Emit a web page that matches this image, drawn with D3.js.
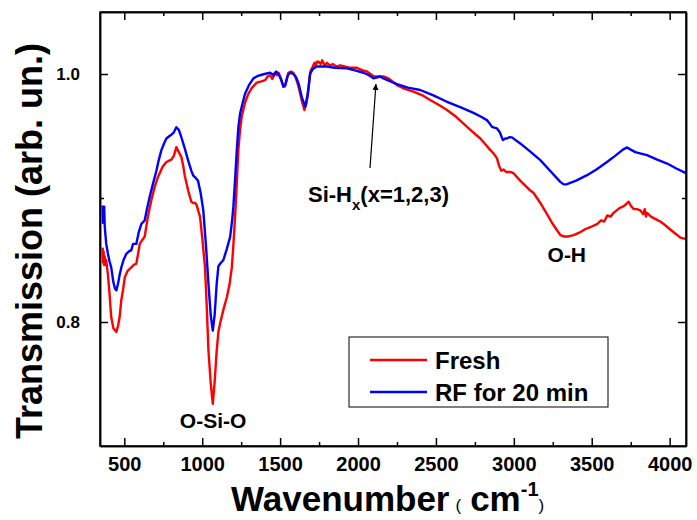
<!DOCTYPE html>
<html>
<head>
<meta charset="utf-8">
<script src="https://cdn.jsdelivr.net/npm/d3@7"></script>
<style>
  body { margin: 0; background: #fff; }
  svg { font-family: "Liberation Sans", Arial, sans-serif; }
  .axis path, .axis line { stroke: #000; stroke-width: 1.5; }
  .axis text { font-weight: bold; fill: #000; }
</style>
</head>
<body>
<svg width="697" height="520"></svg>
<script>
// wavenumber (cm-1) and transmission
var freshWn = [361,364,367,370,374,380,384,395,405,416,430,449,460,470,481,492,503,520,545,560,577,590,599,615,631,650,673,695,716,745,770,802,818,834,850,866,878,888,910,930,943,955,965,976,986,1000,1018,1030,1040,1055,1068,1080,1093,1104,1115,1136,1158,1175,1190,1200,1211,1222,1232,1243,1254,1275,1296,1320,1350,1380,1404,1420,1436,1450,1465,1479,1490,1500,1511,1522,1532,1542,1553,1570,1585,1600,1618,1640,1656,1668,1682,1690,1697,1710,1720,1728,1736,1746,1760,1770,1785,1800,1820,1840,1860,1885,1920,1950,1993,2030,2057,2080,2099,2130,2163,2196,2250,2300,2356,2410,2463,2520,2571,2625,2677,2730,2785,2820,2849,2870,2892,2905,2920,2935,2950,2977,2998,3041,3106,3127,3170,3213,3250,3277,3300,3320,3350,3384,3420,3460,3500,3534,3560,3580,3600,3620,3641,3660,3680,3700,3720,3737,3750,3770,3790,3812,3830,3840,3848,3855,3880,3910,3940,3962,4000,4030,4069,4101];
var freshT = [0.860,0.848,0.857,0.846,0.853,0.846,0.850,0.838,0.823,0.804,0.795,0.792,0.797,0.804,0.818,0.826,0.836,0.841,0.844,0.846,0.847,0.856,0.863,0.866,0.869,0.884,0.898,0.909,0.917,0.925,0.929,0.931,0.934,0.941,0.937,0.933,0.926,0.918,0.906,0.897,0.896,0.896,0.894,0.889,0.885,0.868,0.844,0.810,0.777,0.750,0.734,0.752,0.777,0.792,0.799,0.810,0.820,0.830,0.844,0.862,0.885,0.912,0.939,0.955,0.966,0.977,0.984,0.989,0.993,0.994,0.995,0.998,0.999,0.996,1.001,0.999,1.001,0.998,0.994,0.990,0.990,0.996,1.001,1.002,1.001,0.997,0.990,0.978,0.971,0.976,0.987,0.998,1.003,1.006,1.009,1.006,1.010,1.010,1.008,1.011,1.007,1.009,1.007,1.008,1.006,1.007,1.006,1.005,1.005,1.003,1.002,1.000,0.998,0.998,0.998,0.9965,0.991,0.988,0.9857,0.983,0.979,0.975,0.971,0.966,0.960,0.954,0.948,0.943,0.9386,0.936,0.932,0.926,0.922,0.923,0.921,0.921,0.920,0.914,0.906,0.904,0.896,0.887,0.879,0.874,0.870,0.869,0.869,0.870,0.872,0.875,0.877,0.879,0.882,0.881,0.886,0.885,0.888,0.890,0.892,0.893,0.895,0.897,0.894,0.891,0.891,0.890,0.887,0.891,0.885,0.888,0.885,0.883,0.881,0.879,0.875,0.872,0.868,0.867];

var rfWn = [361,363,365,368,371,374,379,384,395,405,416,430,440,449,460,470,481,495,513,530,545,556,577,592,609,631,645,663,685,706,720,738,755,770,790,802,818,834,850,866,888,909,930,943,960,973,990,1007,1025,1040,1055,1068,1080,1093,1104,1115,1136,1158,1179,1192,1200,1211,1222,1232,1243,1260,1275,1300,1329,1350,1372,1400,1436,1460,1475,1489,1505,1521,1535,1550,1564,1585,1600,1618,1640,1661,1675,1693,1710,1736,1760,1800,1850,1928,1980,2035,2070,2099,2142,2163,2200,2250,2320,2399,2480,2571,2660,2741,2790,2827,2845,2860,2880,2892,2910,2930,2945,2956,2970,2988,3041,3100,3170,3240,3298,3320,3341,3400,3470,3530,3598,3650,3700,3727,3750,3780,3810,3855,3920,3984,4040,4101];
var rfT = [0.894,0.880,0.893,0.885,0.893,0.878,0.870,0.863,0.855,0.849,0.844,0.832,0.827,0.8255,0.831,0.838,0.844,0.850,0.855,0.857,0.858,0.863,0.863,0.872,0.879,0.882,0.891,0.901,0.912,0.922,0.930,0.9386,0.944,0.948,0.950,0.951,0.953,0.957,0.955,0.949,0.940,0.9305,0.922,0.918,0.916,0.914,0.904,0.890,0.860,0.831,0.805,0.793,0.806,0.831,0.845,0.847,0.850,0.859,0.8685,0.882,0.893,0.915,0.9386,0.957,0.968,0.977,0.984,0.991,0.9965,0.998,0.999,1.000,1.001,0.999,1.002,1.000,0.996,0.9897,0.992,0.999,1.001,1.000,0.998,0.9925,0.981,0.9736,0.982,1.0006,1.004,1.006,1.006,1.006,1.005,1.0046,1.003,1.001,0.999,0.9965,0.998,0.9965,0.9945,0.9919,0.989,0.9871,0.983,0.9776,0.973,0.9687,0.9655,0.9628,0.960,0.9574,0.9565,0.9561,0.953,0.9467,0.948,0.948,0.949,0.9489,0.944,0.938,0.9305,0.921,0.913,0.911,0.9111,0.914,0.9184,0.923,0.9291,0.934,0.939,0.9408,0.939,0.937,0.936,0.9346,0.931,0.9278,0.924,0.9203];

var seriesNames = ["Fresh", "RF for 20 min"];
var seriesColors = ["#ff0000", "#0000ff"];
var xTicks = [500, 1000, 1500, 2000, 2500, 3000, 3500, 4000];
var yTicks = [0.8, 1.0];

var svg = d3.select("svg"),
    margin = {top: 12, right: 11, bottom: 74, left: 100},
    width = +svg.attr("width") - margin.left - margin.right,
    height = +svg.attr("height") - margin.top - margin.bottom;

var x = d3.scaleLinear().domain([344, 4105]).range([0, width]),
    y = d3.scaleLinear().domain([0.70, 1.05]).range([height, 0]);

var g = svg.append("g")
    .attr("transform", "translate(" + margin.left + "," + margin.top + ")");

svg.append("defs").append("clipPath")
    .attr("id", "clip")
    .append("rect")
    .attr("width", width)
    .attr("height", height);

var line = d3.line()
    .x(function(d) { return x(d[0]); })
    .y(function(d) { return y(d[1]); });

var series = [
  d3.zip(freshWn, freshT),
  d3.zip(rfWn, rfT)
];

// draw red first, blue on top
series.forEach(function(s, i) {
  g.append("path")
      .datum(s)
      .attr("clip-path", "url(#clip)")
      .attr("fill", "none")
      .attr("stroke", seriesColors[i])
      .attr("stroke-width", 2.4)
      .attr("stroke-linejoin", "round")
      .attr("d", line);
});

// axes, ticks pointing inward on every side
var minorX = d3.range(750, 4100, 500);
var minorY = [0.9];

g.append("g")
    .attr("class", "axis")
    .attr("transform", "translate(0," + height + ")")
    .call(d3.axisBottom(x).tickValues(xTicks).tickSize(-8).tickPadding(11).tickFormat(d3.format("d")).tickSizeOuter(0))
    .selectAll("text").style("font-size", "20px");

g.append("g")
    .attr("class", "axis")
    .attr("transform", "translate(0," + height + ")")
    .call(d3.axisBottom(x).tickValues(minorX).tickSize(-4).tickFormat("").tickSizeOuter(0));

g.append("g")
    .attr("class", "axis")
    .call(d3.axisTop(x).tickValues(xTicks).tickSize(-8).tickFormat("").tickSizeOuter(0));
g.append("g")
    .attr("class", "axis")
    .call(d3.axisTop(x).tickValues(minorX).tickSize(-4).tickFormat("").tickSizeOuter(0));

g.append("g")
    .attr("class", "axis")
    .call(d3.axisLeft(y).tickValues(yTicks).tickSize(-8).tickPadding(20).tickFormat(d3.format(".1f")).tickSizeOuter(0))
    .selectAll("text").style("font-size", "17px");
g.append("g")
    .attr("class", "axis")
    .call(d3.axisLeft(y).tickValues(minorY).tickSize(-4).tickFormat("").tickSizeOuter(0));

g.append("g")
    .attr("class", "axis")
    .attr("transform", "translate(" + width + ",0)")
    .call(d3.axisRight(y).tickValues(yTicks).tickSize(-8).tickFormat("").tickSizeOuter(0));
g.append("g")
    .attr("class", "axis")
    .attr("transform", "translate(" + width + ",0)")
    .call(d3.axisRight(y).tickValues(minorY).tickSize(-4).tickFormat("").tickSizeOuter(0));

// frame
g.append("rect")
    .attr("width", width)
    .attr("height", height)
    .attr("fill", "none")
    .attr("stroke", "#000")
    .attr("stroke-width", 1.5);

// axis titles
svg.append("text")
    .attr("transform", "translate(42," + (margin.top + height / 2 + 12) + ") rotate(-90)")
    .attr("text-anchor", "middle")
    .style("font-size", "36px")
    .style("font-weight", "bold")
    .text("Transmission (arb. un.)");

var xt = svg.append("text")
    .attr("x", 231)
    .attr("y", 511)
    .style("font-weight", "bold")
    .style("font-size", "35px");
xt.append("tspan").text("Wavenumber");
xt.append("tspan").attr("dx", 6).style("font-size", "17px").style("font-weight", "normal").text("(");
xt.append("tspan").attr("dx", 9).text("cm");
xt.append("tspan").attr("dy", -15).style("font-size", "20px").text("-1");
xt.append("tspan").attr("dy", 15).style("font-size", "17px").style("font-weight", "normal").text(")");

// annotations
g.append("text")
    .attr("x", x(1070))
    .attr("y", 428 - margin.top)
    .attr("text-anchor", "middle")
    .style("font-size", "21px")
    .style("font-weight", "bold")
    .text("O-Si-O");

g.append("text")
    .attr("x", x(3340))
    .attr("y", 262 - margin.top)
    .attr("text-anchor", "middle")
    .style("font-size", "21px")
    .style("font-weight", "bold")
    .text("O-H");

var sh = g.append("text")
    .attr("x", 308 - margin.left)
    .attr("y", 202 - margin.top)
    .style("font-size", "22px")
    .style("font-weight", "bold");
sh.append("tspan").text("Si-H");
sh.append("tspan").attr("dy", 8).style("font-size", "15px").text("x");
sh.append("tspan").attr("dy", -8).text("(x=1,2,3)");

svg.append("defs").append("marker")
    .attr("id", "arrow")
    .attr("viewBox", "0 0 10 10")
    .attr("refX", 10).attr("refY", 5)
    .attr("markerWidth", 6).attr("markerHeight", 8)
    .attr("markerUnits", "userSpaceOnUse")
    .attr("orient", "auto")
    .append("path")
    .attr("d", "M0,0 L10,5 L0,10 z")
    .attr("fill", "#000");

g.append("line")
    .attr("x1", 370 - margin.left).attr("y1", 168 - margin.top)
    .attr("x2", x(2115)).attr("y2", y(0.992))
    .attr("stroke", "#000")
    .attr("stroke-width", 1.2)
    .attr("marker-end", "url(#arrow)");

// legend
var legend = svg.append("g").attr("transform", "translate(349,337)");
legend.append("rect")
    .attr("width", 259)
    .attr("height", 70)
    .attr("fill", "#fff")
    .attr("stroke", "#000")
    .attr("stroke-width", 1);

seriesNames.forEach(function(name, i) {
  var row = legend.append("g").attr("transform", "translate(0," + (23 + i * 32) + ")");
  row.append("line")
      .attr("x1", 21).attr("x2", 78)
      .attr("stroke", seriesColors[i])
      .attr("stroke-width", 2.4);
  row.append("text")
      .attr("x", 86)
      .attr("y", 9)
      .style("font-size", "24px")
      .style("font-weight", "bold")
      .text(name);
});
</script>
</body>
</html>
